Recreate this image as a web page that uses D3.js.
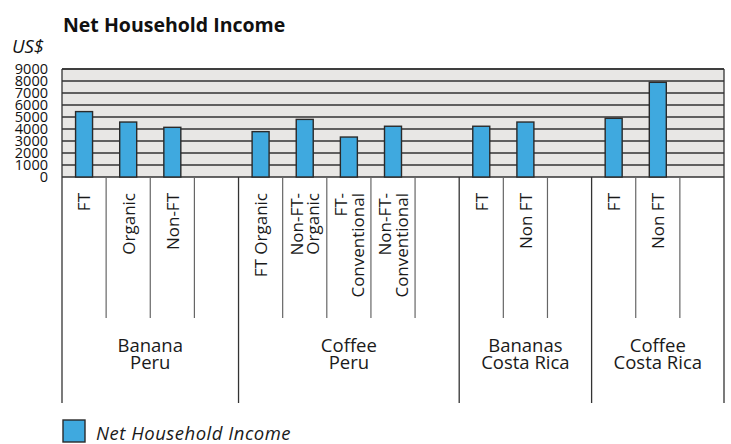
<!DOCTYPE html>
<html>
<head>
<meta charset="utf-8">
<script src="https://cdn.jsdelivr.net/npm/d3@7"></script>
<style>
  html, body { margin: 0; padding: 0; background: #fff; }
  svg { display: block; font-family: "Open Sans", sans-serif; }
</style>
</head>
<body>
<svg id="chart" width="731" height="444"></svg>
<script>
// ---- data ----
const groupNames = ["Banana\nPeru", "Coffee\nPeru", "Bananas\nCosta Rica", "Coffee\nCosta Rica"];
const slotLabels = ["FT", "Organic", "Non-FT", "",
                    "FT Organic", "Non-FT-\nOrganic", "FT-\nConventional", "Non-FT-\nConventional", "",
                    "FT", "Non FT", "",
                    "FT", "Non FT", ""];
const slotGroup = [0, 0, 0, 0, 1, 1, 1, 1, 1, 2, 2, 2, 3, 3, 3];
const incomeValues = [5450, 4580, 4140, null, 3780, 4800, 3330, 4230, null, 4230, 4580, null, 4890, 7890, null];
const yTicks = [0, 1000, 2000, 3000, 4000, 5000, 6000, 7000, 8000, 9000];
const seriesName = "Net Household Income";
const titleText = "Net Household Income";
const unitText = "US$";

// ---- layout ----
const svg = d3.select("#chart");
const pLeft = 62, pRight = 724, pTop = 69, pBottom = 177;
const sepBottom = 318, groupBottom = 403;
const blue = "#3fa9df";

const slots = slotLabels.map((d, i) => i);
const x = d3.scaleBand().domain(slots).range([pLeft, pRight]).padding(0);
const y = d3.scaleLinear().domain([0, 9000]).range([pBottom, pTop]);

// title & unit
svg.append("text").attr("x", 63).attr("y", 32)
  .attr("font-size", 19.5).attr("font-weight", "bold").attr("fill", "#111")
  .text(titleText);
svg.append("text").attr("x", 12).attr("y", 53)
  .attr("font-size", 18.5).attr("font-style", "italic").attr("fill", "#111")
  .text(unitText);

// plot background
svg.append("rect").attr("x", pLeft).attr("y", pTop)
  .attr("width", pRight - pLeft).attr("height", pBottom - pTop)
  .attr("fill", "#e8e7e5");

// gridlines
svg.append("g").selectAll("line").data(yTicks).join("line")
  .attr("x1", pLeft).attr("x2", pRight)
  .attr("y1", d => y(d)).attr("y2", d => y(d))
  .attr("stroke", "#333").attr("stroke-width", 1.3);

// y axis tick labels
const yAxis = d3.axisLeft(y).tickValues(yTicks).tickSize(0).tickPadding(0).tickFormat(d3.format("d"));
const ya = svg.append("g").attr("transform", `translate(${48},0)`).call(yAxis);
ya.select(".domain").remove();
ya.selectAll("text").attr("font-size", 14.5).attr("fill", "#111")
  .attr("font-family", "'Open Sans', sans-serif").attr("dy", "0.34em");

// bars
const barW = x.bandwidth() * 0.385;
const barData = slots.filter(i => incomeValues[i] != null);
svg.append("g").selectAll("rect").data(barData).join("rect")
  .attr("x", i => x(i) + (x.bandwidth() - barW) / 2)
  .attr("y", i => y(incomeValues[i]))
  .attr("width", barW)
  .attr("height", i => y(0) - y(incomeValues[i]))
  .attr("fill", blue).attr("stroke", "#2a2a2a").attr("stroke-width", 1.4);

// plot border (top)
svg.append("line").attr("x1", pLeft).attr("x2", pRight).attr("y1", pTop).attr("y2", pTop)
  .attr("stroke", "#333").attr("stroke-width", 1.3);

// separators between slots
const inner = slots.slice(1).filter(i => slotGroup[i] === slotGroup[i - 1]);
svg.append("g").selectAll("line").data(inner).join("line")
  .attr("x1", i => x(i)).attr("x2", i => x(i))
  .attr("y1", pBottom).attr("y2", sepBottom)
  .attr("stroke", "#666").attr("stroke-width", 1.2);

// group boundaries (incl. left & right edges)
const boundaries = [pLeft].concat(slots.slice(1).filter(i => slotGroup[i] !== slotGroup[i - 1]).map(i => x(i))).concat([pRight]);
svg.append("g").selectAll("line").data(boundaries).join("line")
  .attr("x1", d => d).attr("x2", d => d)
  .attr("y1", d => (d === pLeft || d === pRight) ? pTop : pBottom).attr("y2", groupBottom)
  .attr("stroke", "#333").attr("stroke-width", 1.3);

// slot labels (rotated)
const lblFs = 17, lblLh = 16.7;
const lg = svg.append("g").selectAll("g").data(slots.filter(i => slotLabels[i] !== "")).join("g")
  .attr("transform", i => `translate(${x(i) + x.bandwidth() / 2},193) rotate(-90)`);
lg.each(function(i) {
  const lines = slotLabels[i].split("\n");
  const t = d3.select(this).append("text")
    .attr("text-anchor", "end").attr("font-size", lblFs).attr("fill", "#1a1a1a");
  lines.forEach((ln, k) => {
    t.append("tspan").attr("x", 0)
      .attr("y", (k - (lines.length - 1) / 2) * lblLh + 6.3)
      .text(ln);
  });
});

// group labels
const groupCenters = groupNames.map((g, gi) => {
  const s = slots.filter(i => slotGroup[i] === gi);
  return (x(s[0]) + x(s[s.length - 1]) + x.bandwidth()) / 2;
});
svg.append("g").selectAll("text").data(groupNames).join("text")
  .attr("text-anchor", "middle").attr("font-size", 18.5).attr("fill", "#1a1a1a")
  .each(function(g, gi) {
    const t = d3.select(this);
    g.split("\n").forEach((ln, k) => {
      t.append("tspan").attr("x", groupCenters[gi]).attr("y", 352 + k * 16.8).text(ln);
    });
  });

// legend
svg.append("rect").attr("x", 63).attr("y", 420).attr("width", 22).attr("height", 22)
  .attr("fill", blue).attr("stroke", "#2a2a2a").attr("stroke-width", 1.4);
svg.append("text").attr("x", 96).attr("y", 440)
  .attr("font-size", 18.5).attr("letter-spacing", 0.5).attr("font-style", "italic").attr("fill", "#1a1a1a")
  .text(seriesName);
</script>
</body>
</html>
